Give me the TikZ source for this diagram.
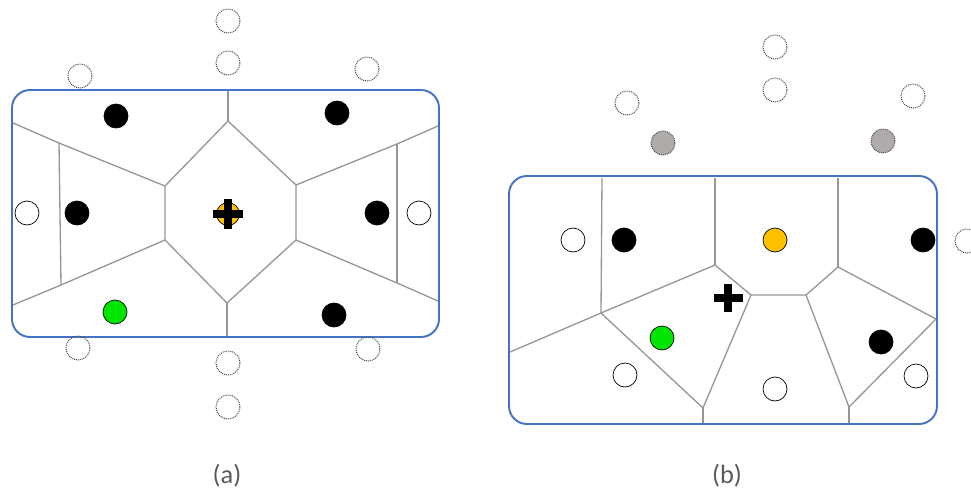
\documentclass[tikz,border=0pt]{standalone}
\usepackage{fontspec}
\setmainfont{Carlito}
\usetikzlibrary{positioning}
\definecolor{frameblue}{HTML}{4472C4}
\definecolor{cellgray}{HTML}{969696}
\definecolor{targetorange}{HTML}{FFC000}
\definecolor{agentgreen}{HTML}{00E600}
\definecolor{ghostgray}{HTML}{AFABAB}
\definecolor{labelgray}{HTML}{595959}

\begin{document}
\begin{tikzpicture}[
  x=0.02cm,y=-0.02cm,
  frame/.style={draw=frameblue,line width=1.1pt,rounded corners=3.6mm},
  cell/.style={draw=cellgray,line width=0.75pt},
  site/.style={circle,draw,thin,minimum size=4.8mm,inner sep=0pt},
  taken/.style={site,fill=black},
  free/.style={site,fill=white},
  ghost/.style={site,draw=black!70,line width=0.6pt,dash pattern=on 0.55pt off 0.55pt},
  ghostfill/.style={ghost,fill=ghostgray},
  agent/.style={site,fill=agentgreen},
  target/.style={site,fill=targetorange},
  crossbar/.style={line width=4.3pt},
  caption/.style={text=labelgray,font=\fontsize{15}{18}\selectfont}
]
  \useasboundingbox (0,0) rectangle (971,490);

  % (a)
  \draw[frame] (12,90) rectangle (439,337);

  \coordinate (a-top) at (228,121);
  \coordinate (a-ul) at (165,186);
  \coordinate (a-ll) at (165,240);
  \coordinate (a-bot) at (227,303);
  \coordinate (a-lr) at (296,240);
  \coordinate (a-ur) at (296,185);
  \coordinate (a-lt) at (59,143);
  \coordinate (a-lb) at (61,285);
  \coordinate (a-rt) at (397,144);
  \coordinate (a-rb) at (397,283);

  \draw[cell] (a-top) -- (a-ul) -- (a-ll) -- (a-bot) -- (a-lr) -- (a-ur) -- cycle;
  \draw[cell] (228,91) -- (a-top);
  \draw[cell] (a-bot) -- (227,336);
  \draw[cell] (13,123) -- (a-lt) -- (a-ul);
  \draw[cell] (13,305) -- (a-lb) -- (a-ll);
  \draw[cell] (a-lt) -- (a-lb);
  \draw[cell] (438,126) -- (a-rt) -- (a-ur);
  \draw[cell] (438,301) -- (a-rb) -- (a-lr);
  \draw[cell] (a-rt) -- (a-rb);

  \node[ghost] (a-g1) at (228,21) {};
  \node[ghost] (a-g2) at (228,63) {};
  \node[ghost] (a-g3) at (80,76) {};
  \node[ghost] (a-g4) at (367,69) {};
  \node[ghost] (a-g5) at (78,348) {};
  \node[ghost] (a-g6) at (228,363) {};
  \node[ghost] (a-g7) at (228,407) {};
  \node[ghost] (a-g8) at (368,349) {};

  \node[taken] (a-b1) at (116,116) {};
  \node[taken] (a-b2) at (337,113) {};
  \node[taken] (a-b3) at (77,213) {};
  \node[taken] (a-b4) at (377,213) {};
  \node[taken] (a-b5) at (334,315) {};

  \node[free] (a-w1) at (27,213) {};
  \node[free] (a-w2) at (419,213) {};

  \node[agent] (a-agent) at (115,312) {};
  \node[target,minimum size=4.6mm] (a-target) at (228,214) {};
  \draw[crossbar] ([xshift=-3.1mm]a-target.center) -- ([xshift=3.1mm]a-target.center)
                  ([yshift=-3mm]a-target.center) -- ([yshift=3mm]a-target.center);

  \node[caption] (a-label) at (227,476) {(a)};

  % (b)
  \draw[frame] (509,176) rectangle (937,424);

  \coordinate (b-v1) at (601,313);
  \coordinate (b-v2) at (715,265);
  \coordinate (b-v3) at (751,295);
  \coordinate (b-v4) at (806,295);
  \coordinate (b-v5) at (838,267);
  \coordinate (b-v6) at (703,408);
  \coordinate (b-v7) at (849,407);
  \coordinate (b-v8) at (936,319);

  \draw[cell] (602,178) -- (b-v1);
  \draw[cell] (715,178) -- (b-v2);
  \draw[cell] (838,178) -- (b-v5);
  \draw[cell] (b-v1) -- (b-v2) -- (b-v3) -- (b-v4) -- (b-v5) -- (b-v8);
  \draw[cell] (510,352) -- (b-v1) -- (b-v6) -- (b-v3);
  \draw[cell] (b-v6) -- (703,423);
  \draw[cell] (b-v4) -- (b-v7) -- (b-v8);
  \draw[cell] (b-v7) -- (849,423);

  \node[ghost] (b-g1) at (775,47) {};
  \node[ghost] (b-g2) at (775,90) {};
  \node[ghost] (b-g3) at (627,103) {};
  \node[ghost] (b-g4) at (913,96) {};
  \node[ghost] (b-g5) at (967,241) {};
  \node[ghostfill] (b-s1) at (663,143) {};
  \node[ghostfill] (b-s2) at (883,141) {};

  \node[free] (b-w1) at (573,240) {};
  \node[free] (b-w2) at (625,375) {};
  \node[free] (b-w3) at (775,389) {};
  \node[free] (b-w4) at (916,376) {};

  \node[taken] (b-b1) at (624,240) {};
  \node[taken] (b-b2) at (923,240) {};
  \node[taken] (b-b3) at (881,342) {};

  \node[target] (b-target) at (775,240) {};
  \node[agent] (b-agent) at (662,338) {};
  \coordinate (b-cross) at (728,298);
  \draw[crossbar] ([xshift=-2.9mm]b-cross) -- ([xshift=2.9mm]b-cross)
                  ([yshift=-2.8mm]b-cross) -- ([yshift=2.8mm]b-cross);

  \node[caption] (b-label) at (727,476) {(b)};
\end{tikzpicture}
\end{document}
